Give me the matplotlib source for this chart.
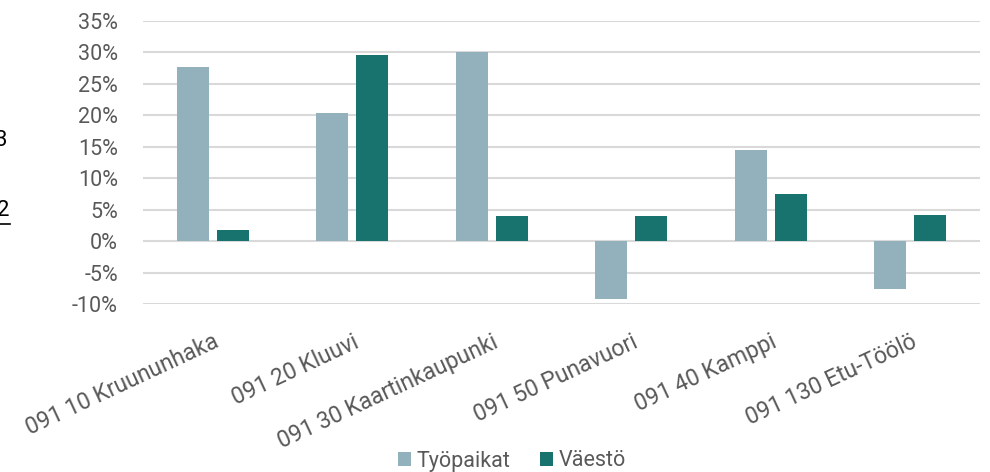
import numpy as np
import matplotlib
matplotlib.use("Agg")
import matplotlib.pyplot as plt
from matplotlib.ticker import FuncFormatter

plt.rcParams['font.family'] = ['Roboto', 'DejaVu Sans']

areas = ["091 10 Kruununhaka", "091 20 Kluuvi", "091 30 Kaartinkaupunki",
         "091 50 Punavuori", "091 40 Kamppi", "091 130 Etu-Töölö"]
tyopaikat = [27.7, 20.3, 30.0, -9.2, 14.4, -7.6]
vaesto = [1.7, 29.5, 4.0, 4.0, 7.4, 4.1]

c_tyo = "#93b1bc"
c_vae = "#18736f"
grey = "#595959"

fig = plt.figure(figsize=(9.9, 4.72), dpi=100)
ax = fig.add_axes([143/990, 1 - 304/472, (980 - 143)/990, (304 - 20.7)/472])

x = np.arange(len(areas))
w = 0.23
off = 0.142
ax.bar(x - off, tyopaikat, w, color=c_tyo, label="Työpaikat", zorder=3)
ax.bar(x + off, vaesto, w, color=c_vae, label="Väestö", zorder=3)

ax.set_xlim(-0.5, len(areas) - 0.5)
ax.set_ylim(-10, 35)
ax.set_yticks(np.arange(-10, 36, 5))
ax.yaxis.set_major_formatter(FuncFormatter(lambda v, p: f"{v:.0f}%"))
ax.grid(axis="y", color="#d9d9d9", lw=1.5, zorder=0)
for s in ax.spines.values():
    s.set_visible(False)
ax.tick_params(axis="both", length=0, colors=grey, labelsize=15.5)
ax.tick_params(axis="y", pad=18)
ax.set_xticks(x)
ax.set_xticklabels(areas, rotation=25, ha="right", rotation_mode="anchor", va="top",
                   fontsize=16.5)
ax.tick_params(axis="x", pad=19)

leg = fig.legend(loc="center", bbox_to_anchor=(512/990, 1 - 461/472), ncol=2,
                 frameon=False, fontsize=15.5, handlelength=0.6, handleheight=0.6,
                 handletextpad=0.25, columnspacing=1.4)
for t in leg.get_texts():
    t.set_color(grey)

# clipped text fragments at the left edge
fig.text(8/990, 1 - 140/472, "3", fontsize=16, ha="right", va="center", color="black")
fig.text(10/990, 1 - 211/472, "2", fontsize=16, ha="right", va="center", color="black")
fig.add_artist(plt.Line2D([0, 10/990], [1 - 224/472, 1 - 224/472], color="black", lw=1.2))

fig.savefig("out.png", dpi=100)
